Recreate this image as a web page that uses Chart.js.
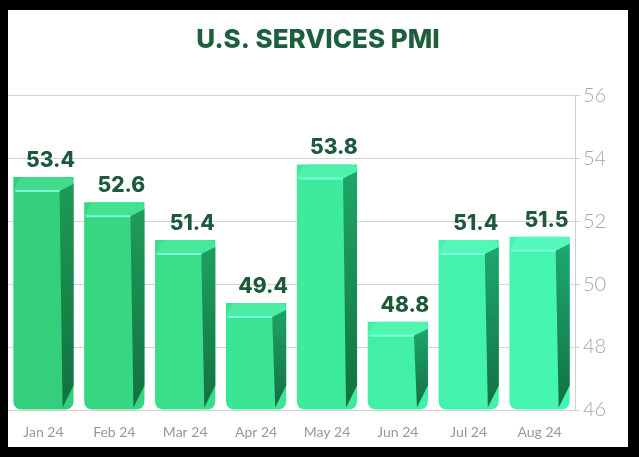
<!DOCTYPE html>
<html>
<head>
<meta charset="utf-8">
<script src="https://cdn.jsdelivr.net/npm/chart.js@4.4.1/dist/chart.umd.min.js"></script>
<style>
  html, body { margin: 0; padding: 0; background: #000; }
  body { width: 639px; height: 457px; position: relative; overflow: hidden; }
  #wrap { position: absolute; left: 8px; top: 10px; width: 620px; height: 437px; background: #fff; }
</style>
</head>
<body>
<div id="wrap"><canvas id="pmiChart"></canvas></div>
<script>
const months = ['Jan 24', 'Feb 24', 'Mar 24', 'Apr 24', 'May 24', 'Jun 24', 'Jul 24', 'Aug 24'];
const pmiValues = [53.4, 52.6, 51.4, 49.4, 53.8, 48.8, 51.4, 51.5];
const yTicks = [46, 48, 50, 52, 54, 56];

// front / top / side shades, greener on the left and more cyan to the right
const frontColors = ['#33cf7c', '#36d683', '#39de8b', '#3ce594', '#3eea9c', '#41f0a6', '#43f3ad', '#45f6b3'];
const topColors = ['#40dc8b', '#43e292', '#47e89a', '#4beea3', '#4ef2aa', '#51f5b2', '#53f7b8', '#56f9bd'];
const sideColors = ['#1f9a58', '#1f9e5c', '#1fa261', '#1fa666', '#1fa86a', '#1fa96e', '#1eaa71', '#1eab74'];

const bar3d = {
    id: 'bar3d',
    afterDatasetsDraw(chart) {
        const ctx = chart.ctx;
        const meta = chart.getDatasetMeta(0);
        ctx.save();
        meta.data.forEach((bar, i) => {
            const w = bar.width;
            const left = bar.x - w / 2;
            const right = bar.x + w / 2;
            const top = bar.y;
            const base = bar.base;
            const side = 14;
            const topH = 14;

            // top face
            ctx.fillStyle = topColors[i];
            ctx.beginPath();
            ctx.moveTo(left, top + topH);
            ctx.lineTo(left + 5, top + 4);
            ctx.quadraticCurveTo(left + 7, top, left + 12, top);
            ctx.lineTo(right - 7, top);
            ctx.quadraticCurveTo(right, top, right, top + 7);
            ctx.lineTo(right - side, top + topH);
            ctx.closePath();
            ctx.fill();

            // right side face, darkening toward the base
            const g = ctx.createLinearGradient(0, top, 0, base);
            g.addColorStop(0, sideColors[i]);
            g.addColorStop(1, '#127040');
            ctx.fillStyle = g;
            ctx.beginPath();
            ctx.moveTo(right - side, top + topH);
            ctx.lineTo(right, top + 7);
            ctx.lineTo(right, base - 24);
            ctx.lineTo(right - side + 3, base - 2);
            ctx.closePath();
            ctx.fill();

            // bright edge between top and front
            ctx.strokeStyle = 'rgba(130, 255, 230, 0.85)';
            ctx.lineWidth = 2;
            ctx.beginPath();
            ctx.moveTo(left + 2, top + topH);
            ctx.lineTo(right - side, top + topH);
            ctx.stroke();

            // value label
            ctx.fillStyle = '#1e5a3a';
            ctx.font = '800 21px Inter, "Open Sans", sans-serif';
            ctx.textAlign = 'center';
            ctx.textBaseline = 'alphabetic';
            ctx.fillText(pmiValues[i].toFixed(1), bar.x + 7, top - 10);
        });
        ctx.restore();
    }
};

function createPmiChart() {
    const ctx = document.getElementById('pmiChart').getContext('2d');

    return new Chart(ctx, {
        type: 'bar',
        data: {
            labels: months,
            datasets: [{
                label: 'U.S. Services PMI',
                data: pmiValues,
                backgroundColor: frontColors,
                borderRadius: { topLeft: 0, topRight: 0, bottomLeft: 8, bottomRight: 8 },
                borderSkipped: false,
                categoryPercentage: 1,
                barPercentage: 0.85,
                base: 46
            }]
        },
        options: {
            responsive: true,
            maintainAspectRatio: false,
            animation: false,
            events: [],
            layout: { padding: 0 },
            scales: {
                x: {
                    grid: { display: false },
                    border: { display: false },
                    ticks: {
                        color: '#909c98',
                        font: { family: 'Lato', size: 14 },
                        padding: 6
                    },
                    afterFit(scale) { scale.height = 37; }
                },
                y: {
                    position: 'right',
                    min: 46,
                    max: 56,
                    afterBuildTicks(scale) {
                        scale.ticks = yTicks.map(v => ({ value: v }));
                    },
                    grid: {
                        color: '#d3d3d3',
                        lineWidth: 1,
                        tickLength: 5
                    },
                    border: { display: true, color: '#cfcfcf' },
                    ticks: {
                        color: '#a6a6a6',
                        font: { family: 'Lato', size: 20, weight: 300 },
                        padding: 3
                    },
                    afterFit(scale) { scale.width = 53; }
                }
            },
            plugins: {
                legend: { display: false },
                tooltip: { enabled: false },
                title: {
                    display: true,
                    text: 'U.S. SERVICES PMI',
                    color: '#1d5f3d',
                    font: { family: 'Inter', size: 26, weight: 800 },
                    padding: { top: 15, bottom: 39 }
                }
            }
        },
        plugins: [bar3d]
    });
}

createPmiChart();
</script>
</body>
</html>
